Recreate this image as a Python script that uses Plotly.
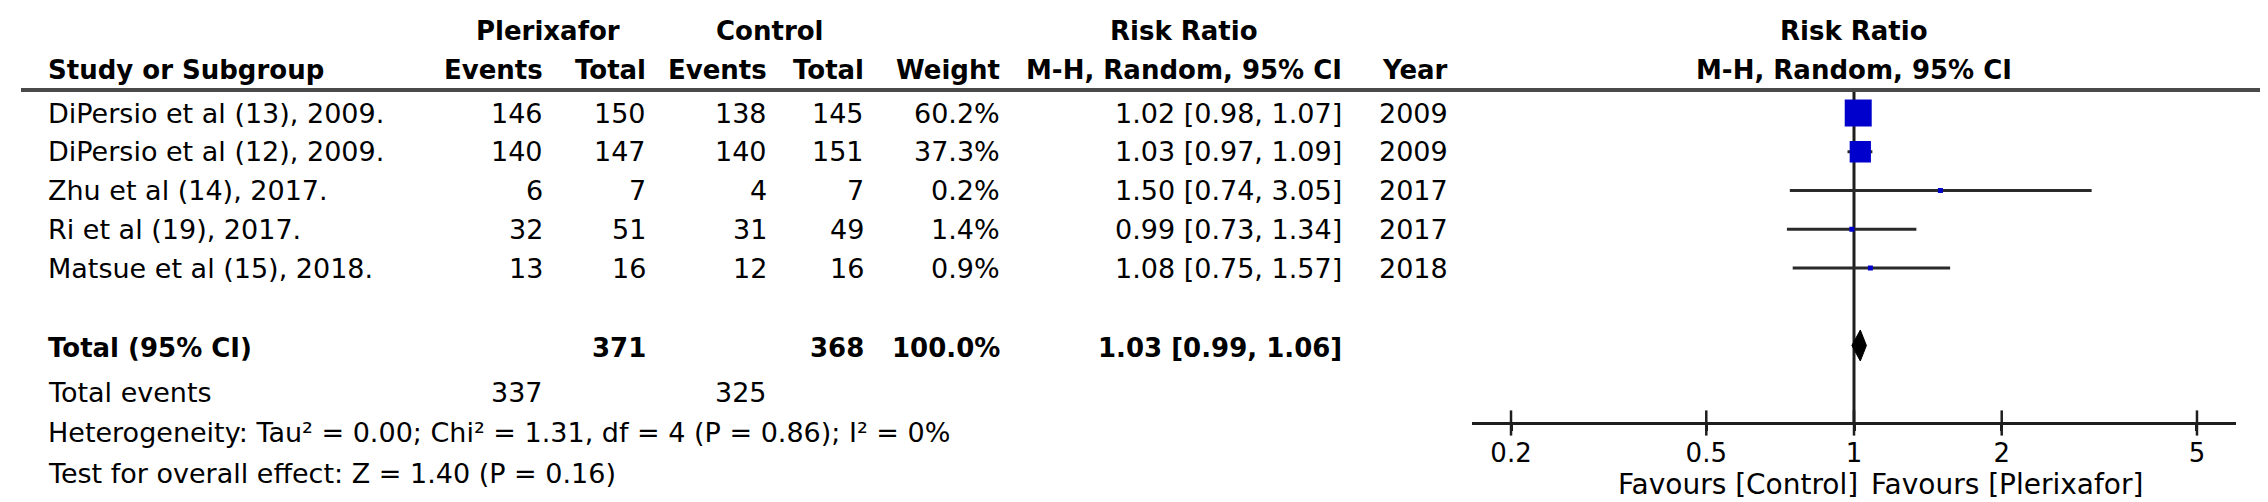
import math
import plotly.graph_objects as go

# ---------------- data ----------------
studies = ["DiPersio et al (13), 2009.", "DiPersio et al (12), 2009.",
           "Zhu et al (14), 2017.", "Ri et al (19), 2017.", "Matsue et al (15), 2018."]
events_plx = [146, 140, 6, 32, 13]
total_plx = [150, 147, 7, 51, 16]
events_ctl = [138, 140, 4, 31, 12]
total_ctl = [145, 151, 7, 49, 16]
weights = [60.2, 37.3, 0.2, 1.4, 0.9]
rr = [1.02, 1.03, 1.50, 0.99, 1.08]
rr_lo = [0.98, 0.97, 0.74, 0.73, 0.75]
rr_hi = [1.07, 1.09, 3.05, 1.34, 1.57]
years = [2009, 2009, 2017, 2017, 2018]

total_n_plx = 371
total_n_ctl = 368
total_weight = 100.0
total_rr, total_lo, total_hi = 1.03, 0.99, 1.06
total_events_plx = 337
total_events_ctl = 325
heterogeneity = "Heterogeneity: Tau² = 0.00; Chi² = 1.31, df = 4 (P = 0.86); I² = 0%"
overall = "Test for overall effect: Z = 1.40 (P = 0.16)"

tick_vals = [0.2, 0.5, 1, 2, 5]
tick_text = ["0.2", "0.5", "1", "2", "5"]
favours_left = "Favours [Control]"
favours_right = "Favours [Plerixafor]"

# ---------------- layout helpers ----------------
W, H = 2268, 502
FONT = "DejaVu Sans"
FS_REG = 27
FS_BOLD = 26
FS_FAV = 28
FS_TICK = 26
ROW_PX = 38.75
ROW0_PX = 105.0
AXIS_PX = 415.0


def px_to_row(py):
    return (py - ROW0_PX) / ROW_PX


Y_TOP = px_to_row(0)
Y_BOT = px_to_row(H)
AXIS_ROW = px_to_row(AXIS_PX)
HEADER_LINE_ROW = px_to_row(82)
TOTAL_ROW = 6

# column anchors (pixels)
col = dict(study=38, ev_p=537, tot_p=640, ev_c=761, tot_c=858, weight=994, rr=1336, year=1442)

annotations = []


def txt(text, xpx, row, anchor="left", bold=False):
    annotations.append(dict(
        text=("<b>%s</b>" % text) if bold else text,
        x=xpx / W, xref="paper", y=row, yref="y",
        xanchor=anchor, yanchor="middle", showarrow=False,
        font=dict(family=FONT, size=FS_BOLD if bold else FS_REG, color="#000"),
    ))


# headers
hdr1 = px_to_row(23)
hdr2 = px_to_row(62)
txt("Plerixafor", 540, hdr1, "center", True)
txt("Control", 761, hdr1, "center", True)
txt("Risk Ratio", 1176, hdr1, "center", True)
txt("Study or Subgroup", col["study"], hdr2, "left", True)
txt("Events", col["ev_p"], hdr2, "right", True)
txt("Total", col["tot_p"], hdr2, "right", True)
txt("Events", col["ev_c"], hdr2, "right", True)
txt("Total", col["tot_c"], hdr2, "right", True)
txt("Weight", col["weight"], hdr2, "right", True)
txt("M-H, Random, 95% CI", col["rr"], hdr2, "right", True)
txt("Year", col["year"], hdr2, "right", True)

# rows
for i, name in enumerate(studies):
    txt(name, col["study"], i)
    txt(str(events_plx[i]), col["ev_p"], i, "right")
    txt(str(total_plx[i]), col["tot_p"], i, "right")
    txt(str(events_ctl[i]), col["ev_c"], i, "right")
    txt(str(total_ctl[i]), col["tot_c"], i, "right")
    txt("%.1f%%" % weights[i], col["weight"], i, "right")
    txt("%.2f [%.2f, %.2f]" % (rr[i], rr_lo[i], rr_hi[i]), col["rr"], i, "right")
    txt(str(years[i]), col["year"], i, "right")

# totals
tot_txt_row = px_to_row(340)
txt("Total (95% CI)", col["study"], tot_txt_row, "left", True)
txt(str(total_n_plx), col["tot_p"], tot_txt_row, "right", True)
txt(str(total_n_ctl), col["tot_c"], tot_txt_row, "right", True)
txt("%.1f%%" % total_weight, col["weight"], tot_txt_row, "right", True)
txt("%.2f [%.2f, %.2f]" % (total_rr, total_lo, total_hi), col["rr"], tot_txt_row, "right", True)

r_ev = px_to_row(384)
txt("Total events", col["study"], r_ev)
txt(str(total_events_plx), col["ev_p"], r_ev, "right")
txt(str(total_events_ctl), col["ev_c"], r_ev, "right")
txt(heterogeneity, col["study"], px_to_row(424))
txt(overall, col["study"], px_to_row(465))

# forest header
txt("Risk Ratio", 1846, hdr1, "center", True)
txt("M-H, Random, 95% CI", 1846, hdr2, "center", True)

# favours labels (anchored in data x)
fav_row = px_to_row(476)
annotations.append(dict(text=favours_left, x=0, xref="x", y=fav_row, yref="y",
                        xanchor="right", yanchor="middle", showarrow=False, xshift=6,
                        font=dict(family=FONT, size=FS_FAV, color="#000")))
annotations.append(dict(text=favours_right, x=0, xref="x", y=fav_row, yref="y",
                        xanchor="left", yanchor="middle", showarrow=False, xshift=15,
                        font=dict(family=FONT, size=FS_FAV, color="#000")))

# ---------------- traces ----------------
fig = go.Figure()

# null line
fig.add_trace(go.Scatter(x=[1, 1], y=[HEADER_LINE_ROW, AXIS_ROW], mode="lines",
                         line=dict(color="#1e1e1e", width=3), hoverinfo="skip"))

# CI lines
for i in range(len(studies)):
    fig.add_trace(go.Scatter(x=[rr_lo[i], rr_hi[i]], y=[i, i], mode="lines",
                             line=dict(color="#2a2a2a", width=3), hoverinfo="skip"))

# squares (area proportional to weight, with a minimum visible size)
max_w = max(weights)
sizes = [max(27 * math.sqrt(w / max_w), 5) for w in weights]
fig.add_trace(go.Scatter(x=rr, y=list(range(len(studies))), mode="markers",
                         marker=dict(symbol="square", size=sizes, color="#0000cc",
                                     opacity=1, line=dict(width=0)), hoverinfo="skip"))

# diamond
h = 0.4
fig.add_trace(go.Scatter(x=[total_lo, total_rr, total_hi, total_rr, total_lo],
                         y=[TOTAL_ROW, TOTAL_ROW - h, TOTAL_ROW, TOTAL_ROW + h, TOTAL_ROW],
                         mode="lines", fill="toself", fillcolor="#000",
                         line=dict(color="#000", width=1), hoverinfo="skip"))

# tick marks crossing axis
fig.add_trace(go.Scatter(x=tick_vals, y=[AXIS_ROW] * len(tick_vals), mode="markers",
                         marker=dict(symbol="line-ns", size=18, opacity=1,
                                     line=dict(color="#1e1e1e", width=2.5)),
                         hoverinfo="skip", cliponaxis=False))

lo_log = math.log10(1 / 6)
hi_log = math.log10(6)
x0_px = 1846 + lo_log * 490.7
x1_px = 1846 + hi_log * 490.7

fig.update_layout(
    width=W, height=H, autosize=False,
    margin=dict(l=0, r=0, t=0, b=0),
    paper_bgcolor="white", plot_bgcolor="rgba(0,0,0,0)",
    showlegend=False,
    annotations=annotations,
    shapes=[dict(type="line", xref="paper", yref="y", x0=13 / W, x1=2255 / W,
                 y0=HEADER_LINE_ROW, y1=HEADER_LINE_ROW,
                 line=dict(color="#4a4a4a", width=4))],
    xaxis=dict(type="log", range=[lo_log, hi_log], domain=[x0_px / W, x1_px / W],
               anchor="free", position=1 - AXIS_PX / H,
               showline=True, linecolor="#1e1e1e", linewidth=3,
               ticks="outside", ticklen=6, tickwidth=2.5, tickcolor="#1e1e1e",
               tickvals=tick_vals, ticktext=tick_text,
               tickfont=dict(family=FONT, size=FS_TICK, color="#000"),
               showgrid=False, zeroline=False, fixedrange=True),
    yaxis=dict(range=[Y_BOT, Y_TOP], domain=[0, 1], visible=False,
               showgrid=False, zeroline=False, fixedrange=True),
)

fig.write_html("out.html")
